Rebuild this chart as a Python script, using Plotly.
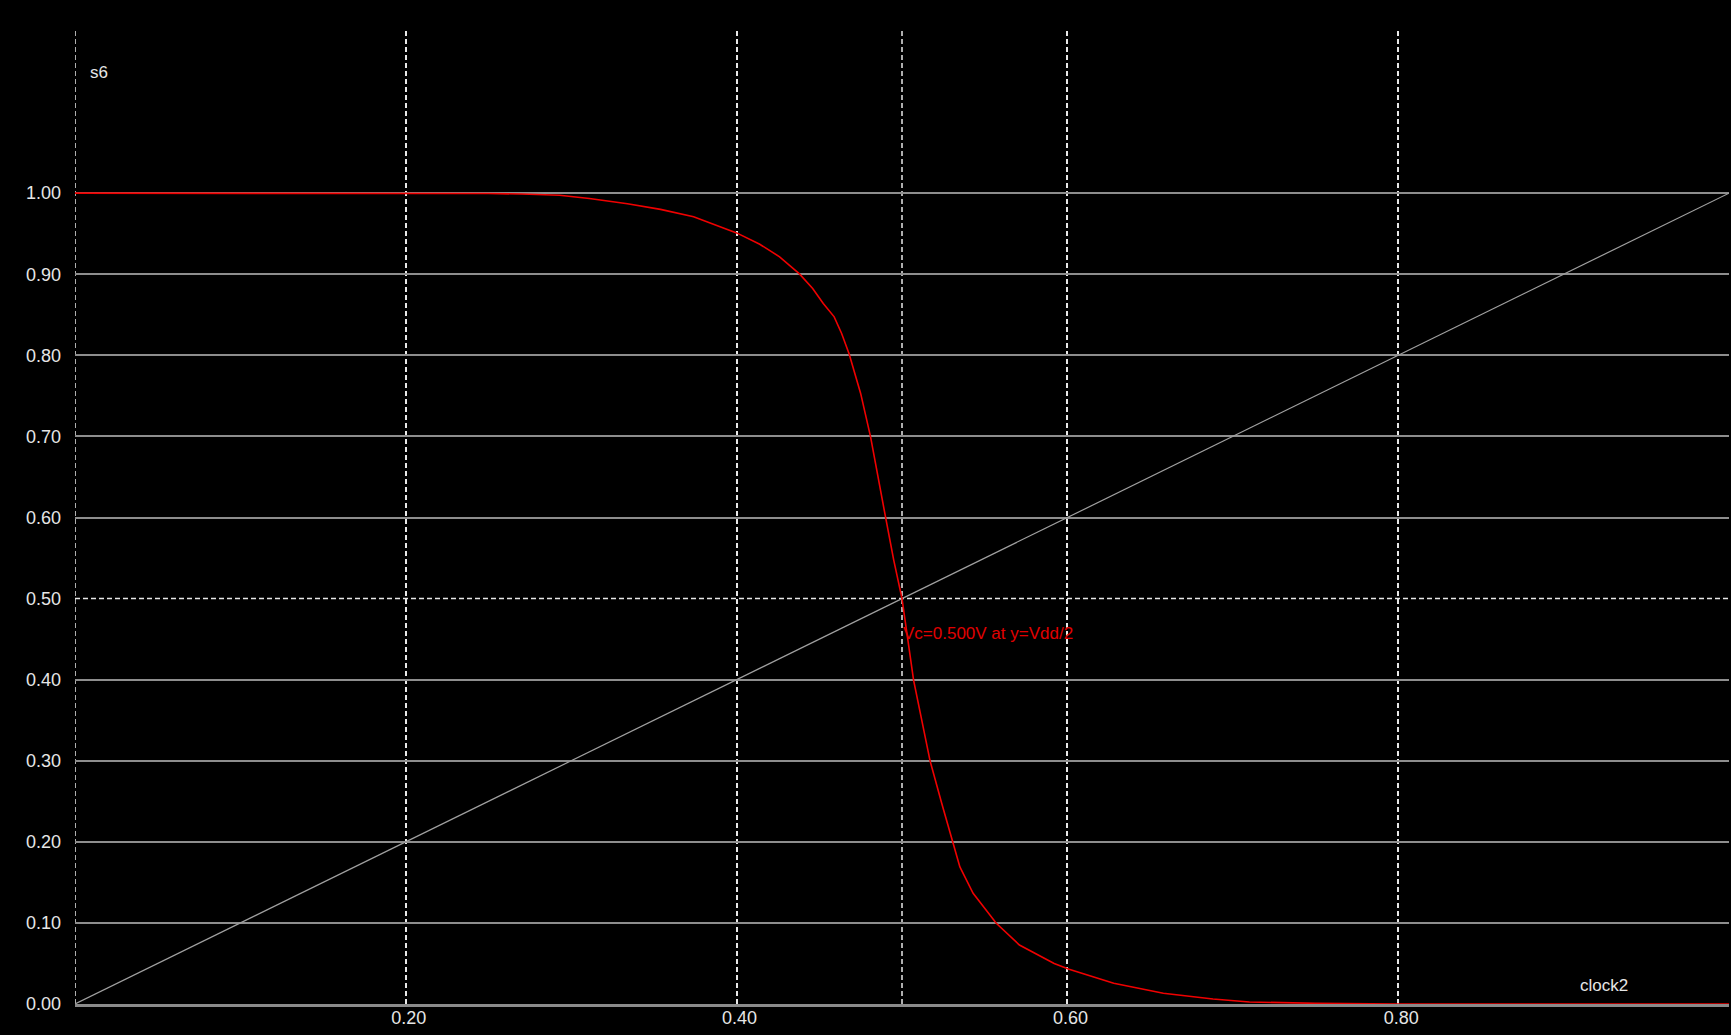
import plotly.graph_objects as go

# transfer curve of the inverter (s6 against clock2)
vin = [0.00, 0.05, 0.10, 0.15, 0.20, 0.22, 0.25, 0.27, 0.293, 0.311, 0.334, 0.354,
       0.374, 0.400, 0.414, 0.426, 0.438, 0.446, 0.4524, 0.459, 0.4635, 0.468, 0.475,
       0.481, 0.485, 0.490, 0.495, 0.500, 0.507, 0.512, 0.517, 0.524, 0.531, 0.535,
       0.543, 0.552, 0.557, 0.571, 0.592, 0.601, 0.628, 0.658, 0.688, 0.710, 0.750,
       0.800, 0.900, 1.000]
vout = [1.000, 1.000, 1.000, 1.000, 1.000, 1.000, 0.9995, 0.999, 0.9975, 0.9934, 0.987, 0.980,
        0.971, 0.951, 0.937, 0.9215, 0.9005, 0.8825, 0.864, 0.8475, 0.827, 0.802, 0.753,
        0.6995, 0.654, 0.601, 0.5475, 0.500, 0.3995, 0.350, 0.2996, 0.2475, 0.1994, 0.169,
        0.1365, 0.112, 0.0995, 0.0727, 0.050, 0.0428, 0.0255, 0.0132, 0.0062, 0.0025, 0.0008,
        0.000, 0.000, 0.000]

# reference line y = x
diag_x = [0.0, 1.0]
diag_y = [0.0, 1.0]

vdd = 1.0
vc = 0.5   # switching point, y = Vdd/2

x_grid = [0.0, 0.2, 0.4, 0.6, 0.8]
x_labels = ['', '0.20', '0.40', '0.60', '0.80']
y_ticks = [0.0, 0.1, 0.2, 0.3, 0.4, 0.5, 0.6, 0.7, 0.8, 0.9, 1.0]
y_labels = [f'{v:.2f}' for v in y_ticks]
y_grid = [v for v in y_ticks if v not in (0.0, vdd / 2)]

RED = '#f00000'
GRID = '#8e8e8e'
DASH = '#e8e8e8'
TXT = '#e6e6e6'
FONT = 'Liberation Sans, Arial, sans-serif'

fig = go.Figure()
fig.add_trace(go.Scatter(x=diag_x, y=diag_y, mode='lines',
                         line=dict(color='#a0a0a0', width=1.2), hoverinfo='skip'))
fig.add_trace(go.Scatter(x=vin, y=vout, mode='lines',
                         line=dict(color=RED, width=1.6), name='s6'))
# invisible trace only to carry the grid axis
fig.add_trace(go.Scatter(x=[0], y=[0], yaxis='y2', mode='markers',
                         marker=dict(opacity=0), hoverinfo='skip'))

# left border of the plot, dashed like the other verticals
fig.add_shape(type='line', x0=x_grid[0], x1=x_grid[0], y0=0, y1=1.2, layer='below',
              line=dict(color=DASH, width=1.5, dash='5px,3px'))
# crossing marker at Vc
fig.add_shape(type='line', x0=vc, x1=vc, y0=0, y1=1.2, layer='below',
              line=dict(color=DASH, width=1.5, dash='5px,3px'))
fig.add_shape(type='line', x0=0, x1=1, y0=vdd / 2, y1=vdd / 2, layer='below',
              line=dict(color=DASH, width=1.5, dash='5px,3px'))

fig.add_annotation(x=vc, y=0.457, text=f'Vc={vc:.3f}V at y=Vdd/2', showarrow=False,
                   xanchor='left', yanchor='middle', xshift=-1,
                   font=dict(color='#e00000', size=17, family=FONT))
fig.add_annotation(x=0.008, y=1.149, text='s6', showarrow=False,
                   xanchor='left', yanchor='middle', font=dict(color=TXT, size=17, family=FONT))
fig.add_annotation(x=0.909, y=0.023, text='clock2', showarrow=False,
                   xanchor='left', yanchor='middle', font=dict(color=TXT, size=17, family=FONT))

fig.update_layout(
    width=1731, height=1035,
    paper_bgcolor='black', plot_bgcolor='black',
    margin=dict(l=75, r=2, t=31, b=31),
    showlegend=False,
    font=dict(family=FONT, size=18, color=TXT),
    xaxis=dict(range=[0, 1], tickvals=x_grid, ticktext=x_labels,
               showgrid=True, gridcolor=DASH, gridwidth=1.5, griddash='5px,3px',
               zeroline=False, showline=True, linecolor='#8a8a8a', linewidth=3,
               ticks='', ticklabelstandoff=-5, ticklabelshift=3,
               tickfont=dict(size=18, color=TXT)),
    yaxis=dict(range=[0, 1.2], tickvals=y_ticks, ticktext=y_labels,
               showgrid=False, zeroline=False, showline=False,
               ticks='', ticklabelstandoff=13, tickfont=dict(size=18, color=TXT)),
    yaxis2=dict(range=[0, 1.2], overlaying='y', tickvals=y_grid, showticklabels=False,
                showgrid=True, gridcolor=GRID, gridwidth=1.5, zeroline=False,
                showline=False, ticks=''),
)

# page margin off so the 1731x1035 figure fills the window
fig.write_html('out.html', config={'displayModeBar': False},
               post_script="document.body.style.margin='0';document.body.style.overflow='hidden';")
